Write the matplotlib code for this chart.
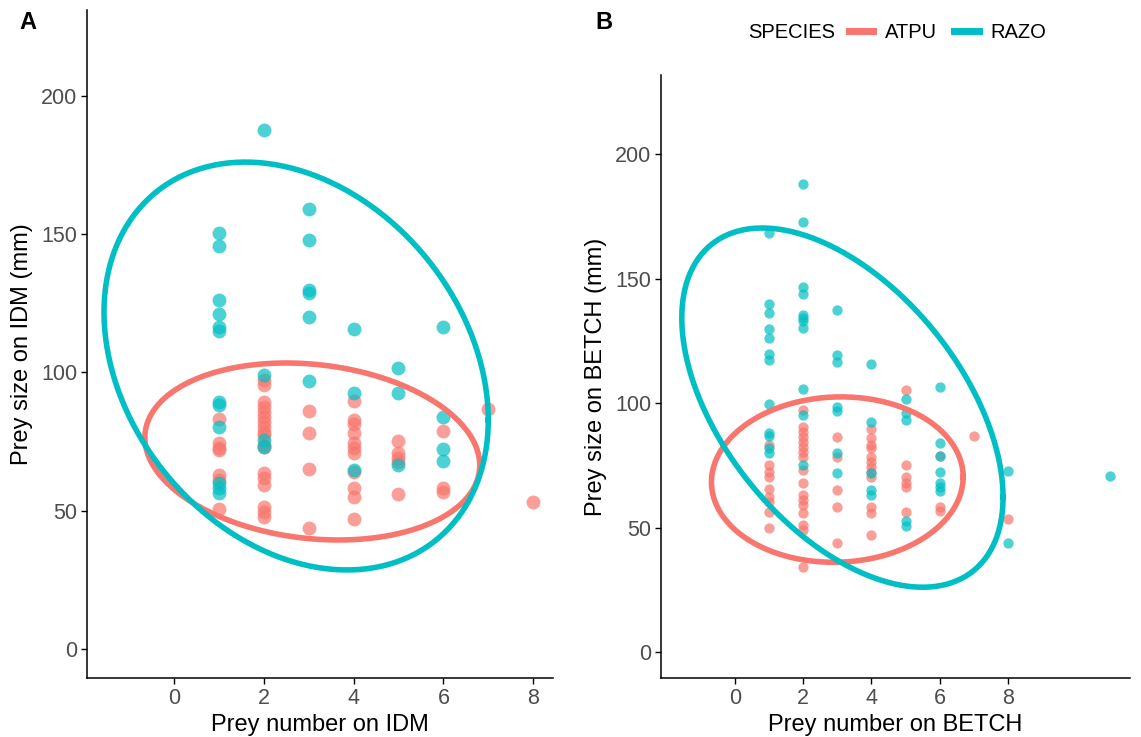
import matplotlib
matplotlib.use("Agg")
import matplotlib.pyplot as plt
import numpy as np
from matplotlib.lines import Line2D

plt.rcParams["font.family"] = ["Liberation Sans", "DejaVu Sans"]

RED = "#F8766D"
TEAL = "#00BFC4"

# ---- panel A: prey on IDM ----
idm_atpu_n = [1, 1, 1, 1, 1, 1, 1,
              2, 2, 2, 2, 2, 2, 2, 2, 2, 2, 2, 2, 2, 2, 2, 2, 2, 2,
              3, 3, 3, 3,
              4, 4, 4, 4, 4, 4, 4, 4, 4, 4, 4,
              5, 5, 5, 5, 5,
              6, 6, 6, 7, 8]
idm_atpu_size = [83, 74.4, 72.6, 71.9, 62.9, 61.1, 50.5,
                 97.3, 95.4, 89.4, 87.6, 85.8, 84, 82.2, 80.4, 78.6, 77.4, 73.8, 63.5, 61.7, 59.3, 51.4, 49.6, 47.8, 73.1,
                 86.2, 78.2, 65, 43.6,
                 89.8, 82.8, 81.3, 78, 74.4, 72.6, 70.8, 64.1, 58.1, 55.1, 46.9,
                 75.2, 71, 68.9, 67.7, 56,
                 78.8, 58.1, 56.9, 86.7, 53]

idm_razo_n = [1, 1, 1, 1, 1, 1, 1, 1, 1, 1, 1, 1,
              2, 2, 2, 2,
              3, 3, 3, 3, 3, 3,
              4, 4, 4,
              5, 5, 5,
              6, 6, 6, 6]
idm_razo_size = [150.3, 145.8, 126.2, 121.1, 116.5, 115, 89.4, 88.2, 80.4, 59.9, 58.1, 56.5,
                 187.6, 99, 75.6, 73.1,
                 159.1, 147.9, 129.8, 128.8, 119.9, 97,
                 115.6, 92.4, 64.7,
                 101.5, 92.7, 66.5,
                 116.5, 84, 72.3, 68]

# ---- panel B: prey on BETCH ----
betch_atpu_n = [1, 1, 1, 1, 1, 1, 1, 1, 1,
                2, 2, 2, 2, 2, 2, 2, 2, 2, 2, 2, 2, 2, 2, 2, 2, 2,
                3, 3, 3, 3, 3,
                4, 4, 4, 4, 4, 4, 4, 4, 4, 4, 4, 4,
                5, 5, 5, 5, 5, 5,
                6, 6, 6, 7, 8]
betch_atpu_size = [83.1, 75.1, 72.4, 70.4, 65.7, 62.4, 60.4, 56.3, 49.7,
                   97.2, 90.5, 88.5, 86.5, 84.5, 82.4, 80.4, 78.4, 73.1, 67.8, 63, 61, 59, 55.7, 51, 49, 34.3,
                   86.5, 78.4, 65.1, 58.4, 43.7,
                   89.8, 85.8, 83.1, 81.8, 78.4, 76.4, 74.4, 72.4, 70.4, 58.4, 55.7, 47,
                   105.2, 75.1, 70.4, 67.8, 66.4, 56.3,
                   78.7, 58.1, 56.7, 86.7, 53.3]

betch_razo_n = [1, 1, 1, 1, 1, 1, 1, 1, 1, 1, 1, 1,
                2, 2, 2, 2, 2, 2, 2, 2, 2, 2, 2,
                3, 3, 3, 3, 3, 3, 3,
                4, 4, 4, 4, 4,
                5, 5, 5, 5, 5,
                6, 6, 6, 6, 6, 6, 6,
                8, 8, 11]
betch_razo_size = [168.4, 139.8, 136.3, 129.7, 126.2, 119.7, 117.3, 99.6, 88.1, 86.7, 81.8, 79.8,
                   188, 172.8, 146.5, 143.7, 135.3, 134, 133.1, 130.2, 105.5, 95.2, 75.1,
                   137.3, 119.3, 116.6, 98.5, 96.9, 79.8, 71.8,
                   115.7, 92.5, 65.1, 63, 71.8,
                   101.5, 95.9, 93.2, 52.7, 50.6,
                   106.5, 84.1, 78.7, 72.4, 68, 66.4, 64.8,
                   72.8, 43.7, 70.7]

# ellipse centre (x, y) and Cholesky-style shape (L11, L21, L22)
idm_atpu_ell = [3.08, 71.4, 3.73, -5.0, 31.6]
idm_razo_ell = [2.72, 102.3, 4.28, -19.5, 71.1]
betch_atpu_ell = [3.0, 69.3, 3.69, 1.0, 33.2]
betch_razo_ell = [3.15, 98.2, 4.71, -36.0, 62.5]

species = ["ATPU", "RAZO"]


def ellipse_path(p):
    t = np.linspace(0, 2 * np.pi, 300)
    cx, cy, l11, l21, l22 = p
    return cx + l11 * np.cos(t), cy + l21 * np.cos(t) + l22 * np.sin(t)


def style(ax, xlim, ylim, xlabel, ylabel):
    ax.set_xlim(*xlim)
    ax.set_ylim(*ylim)
    ax.set_xticks([0, 2, 4, 6, 8])
    ax.set_yticks([0, 50, 100, 150, 200])
    for s in ("top", "right"):
        ax.spines[s].set_visible(False)
    for s in ("left", "bottom"):
        ax.spines[s].set_linewidth(1.1)
    ax.tick_params(length=4, width=1.0, labelsize=15.5, labelcolor="#4D4D4D", pad=3)
    ax.set_xlabel(xlabel, fontsize=17, labelpad=4)
    ax.set_ylabel(ylabel, fontsize=17, labelpad=6)


fig = plt.figure(figsize=(11.41, 7.37), dpi=100)
axA = fig.add_axes([0.0762, 0.080, 0.4084, 0.9064])
axB = fig.add_axes([0.5793, 0.080, 0.411, 0.818])

axA.scatter(idm_atpu_n, idm_atpu_size, s=100, color=RED, alpha=0.7, lw=0)
axA.scatter(idm_razo_n, idm_razo_size, s=100, color=TEAL, alpha=0.7, lw=0)
for p, c in ((idm_atpu_ell, RED), (idm_razo_ell, TEAL)):
    ex, ey = ellipse_path(p)
    axA.plot(ex, ey, color=c, lw=4.0)
style(axA, (-1.94, 8.44), (-10.5, 231), "Prey number on IDM", "Prey size on IDM (mm)")

axB.scatter(betch_atpu_n, betch_atpu_size, s=55, color=RED, alpha=0.7, lw=0)
axB.scatter(betch_razo_n, betch_razo_size, s=55, color=TEAL, alpha=0.7, lw=0)
for p, c in ((betch_atpu_ell, RED), (betch_razo_ell, TEAL)):
    ex, ey = ellipse_path(p)
    axB.plot(ex, ey, color=c, lw=4.0)
style(axB, (-2.17, 11.58), (-10.4, 231.7), "Prey number on BETCH", "Prey size on BETCH (mm)")

fig.text(0.017, 0.970, "A", fontsize=17, fontweight="bold", va="center")
fig.text(0.522, 0.970, "B", fontsize=17, fontweight="bold", va="center")

# legend: title on the same row as the keys
fig.text(748 / 1141, 1 - 33 / 737, "SPECIES", fontsize=14.5, va="center")
handles = [Line2D([], [], color=RED, lw=5), Line2D([], [], color=TEAL, lw=5)]
fig.legend(handles, species, ncol=2, loc="center left",
           bbox_to_anchor=(849 / 1141, 1 - 33 / 737), frameon=False, fontsize=14.5,
           borderpad=0, borderaxespad=0, handlelength=1.2, columnspacing=0.85,
           handletextpad=0.6)

fig.savefig("out.png", dpi=100)
